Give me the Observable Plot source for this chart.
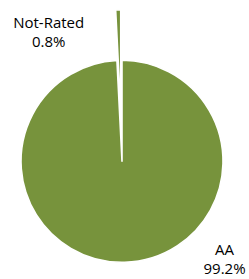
<!DOCTYPE html>
<html><head><meta charset="utf-8">
<script src="https://cdn.jsdelivr.net/npm/d3@7"></script>
<script src="https://cdn.jsdelivr.net/npm/@observablehq/plot@0.6"></script>
<style>html,body{margin:0;padding:0;background:#fff;overflow:hidden}</style>
</head><body><div id="chart"></div>
<script>
// Data
const categories = ["AA", "Not-Rated"];
const values = [99.2, 0.8];
const valueLabels = ["99.2%", "0.8%"];
const explode = [0, 0.5];           // fraction of radius the slice is pulled out
const colors = ["#77933C", "#77933C"];

// Layout (in pixels) used to set up the scales in radius units
const W = 249, H = 279, CX = 122, CY = 161.3, R = 101;
// Label anchor positions (unit = radius, center of pie at 0,0)
const labelX = [1.01, -0.731];
const labelY = [-0.955, 1.29];

const data = categories.map((c, i) => ({category: c, value: values[i], label: valueLabels[i], explode: explode[i], color: colors[i], lx: labelX[i], ly: labelY[i]}));
const arcs = d3.pie().sort(null).value(d => d.value)(data);

const pieMark = (index, scales) => {
  const r = scales.x(1) - scales.x(0);
  const arc = d3.arc().innerRadius(0).outerRadius(r);
  const g = d3.create("svg:g");
  g.selectAll("path").data(arcs).join("path")
    .attr("d", arc)
    .attr("transform", d => {
      const a = (d.startAngle + d.endAngle) / 2, e = d.data.explode;
      return `translate(${scales.x(e * Math.sin(a))},${scales.y(e * Math.cos(a))})`;
    })
    .attr("fill", d => d.data.color)
    .attr("stroke", "white")
    .attr("stroke-width", 1.6)
    .attr("stroke-linejoin", "round");
  return g.node();
};

const chart = Plot.plot({
  width: W, height: H, margin: 0,
  style: {fontFamily: "'Open Sans', sans-serif", fontSize: "15px", background: "white", color: "black", overflow: "visible"},
  x: {domain: [(0 - CX) / R, (W - CX) / R], axis: null},
  y: {domain: [(CY - H) / R, CY / R], axis: null},
  marks: [
    pieMark,
    Plot.text(data, {x: "lx", y: "ly", text: d => `${d.category}\n${d.label}`, textAnchor: "middle", lineHeight: 1.25, fill: "black", fontSize: 15})
  ]
});
document.getElementById("chart").append(chart);
</script>
</body></html>
